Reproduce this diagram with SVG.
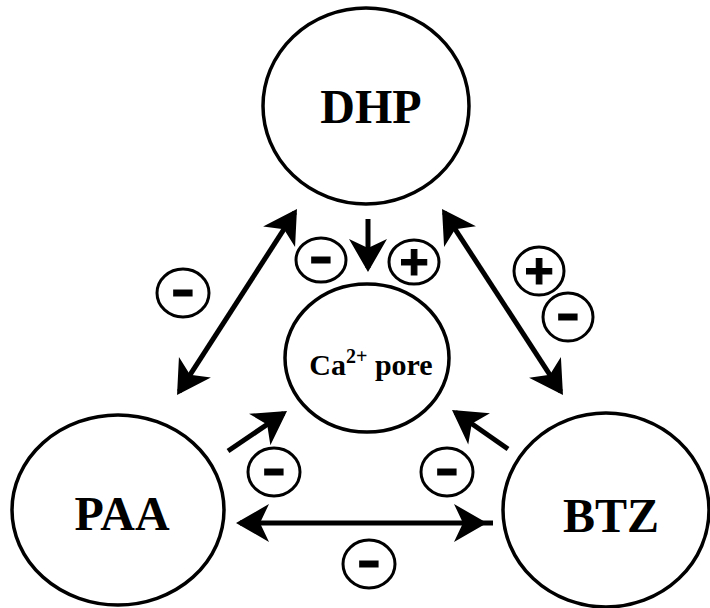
<svg xmlns="http://www.w3.org/2000/svg" width="710" height="608" viewBox="0 0 710 608">
<defs>
<style>
.node{fill:#fff;stroke:#000;stroke-width:3.5}
.sign{fill:#fff;stroke:#000;stroke-width:3}
.lbl{font-family:"Liberation Serif","Times New Roman",serif;font-weight:bold;fill:#000;text-anchor:middle}
.sg{font-family:"Liberation Sans",Arial,sans-serif;font-weight:bold;fill:#000;stroke:#000;stroke-width:1.2;text-anchor:middle;font-size:50px}
.conn{stroke:#000;stroke-width:5;fill:none}
</style>
<marker id="ah" viewBox="0 -20 40 40" markerWidth="40" markerHeight="40" refX="28" refY="0" markerUnits="userSpaceOnUse" orient="auto-start-reverse" overflow="visible">
<path d="M32,0 L-1,-19 L8,0 L-1,19 Z" fill="#000"/>
</marker>
</defs>
<rect width="710" height="608" fill="#fff"/>
<g id="connectors">
<line class="conn" x1="294.8" y1="212.4" x2="179.2" y2="391.6" marker-start="url(#ah)" marker-end="url(#ah)"/>
<line class="conn" x1="444.2" y1="212.4" x2="560.8" y2="391.6" marker-start="url(#ah)" marker-end="url(#ah)"/>
<line class="conn" x1="368" y1="219" x2="368" y2="268" marker-end="url(#ah)"/>
<line class="conn" x1="228" y1="451" x2="283.7" y2="413.2" marker-end="url(#ah)"/>
<line class="conn" x1="508" y1="449" x2="455.3" y2="412.3" marker-end="url(#ah)"/>
<path class="conn" d="M240,523 L483,523 L493,523" marker-start="url(#ah)" marker-mid="url(#ah)"/>
</g>
<g id="dhp">
<ellipse class="node" cx="366" cy="106" rx="103" ry="98"/>
<text class="lbl" x="371" y="123" font-size="48">DHP</text>
</g>
<g id="ca-pore">
<ellipse class="node" cx="367" cy="358" rx="82" ry="74"/>
<text class="lbl" x="371" y="375" font-size="30">Ca<tspan font-size="20" dy="-12">2+</tspan><tspan dy="12"> pore</tspan></text>
</g>
<g id="paa">
<ellipse class="node" cx="118" cy="510" rx="106" ry="95"/>
<text class="lbl" x="122" y="530" font-size="48">PAA</text>
</g>
<g id="btz">
<ellipse class="node" cx="606" cy="510" rx="103" ry="97"/>
<text class="lbl" x="611" y="532" font-size="48">BTZ</text>
</g>
<g id="sign-dhp-minus">
<ellipse class="sign" cx="321" cy="260" rx="25" ry="22"/>
<text class="sg" transform="translate(321,273) scale(1.4,1)">-</text>
</g>
<g id="sign-dhp-plus">
<ellipse class="sign" cx="414" cy="262" rx="25" ry="22"/>
<text class="sg" transform="translate(414,279)">+</text>
</g>
<g id="sign-left-minus">
<ellipse class="sign" cx="183" cy="293" rx="26" ry="24"/>
<text class="sg" transform="translate(183,306) scale(1.4,1)">-</text>
</g>
<g id="sign-right-plus">
<ellipse class="sign" cx="539" cy="271" rx="25" ry="24"/>
<text class="sg" transform="translate(539,288)">+</text>
</g>
<g id="sign-right-minus">
<ellipse class="sign" cx="568" cy="317" rx="25" ry="24"/>
<text class="sg" transform="translate(568,330) scale(1.4,1)">-</text>
</g>
<g id="sign-paa-minus">
<ellipse class="sign" cx="274" cy="472" rx="26" ry="24"/>
<text class="sg" transform="translate(274,485) scale(1.4,1)">-</text>
</g>
<g id="sign-btz-minus">
<ellipse class="sign" cx="447" cy="472" rx="26" ry="24"/>
<text class="sg" transform="translate(447,485) scale(1.4,1)">-</text>
</g>
<g id="sign-bottom-minus">
<ellipse class="sign" cx="369" cy="564" rx="26" ry="24"/>
<text class="sg" transform="translate(369,577) scale(1.4,1)">-</text>
</g>
</svg>
